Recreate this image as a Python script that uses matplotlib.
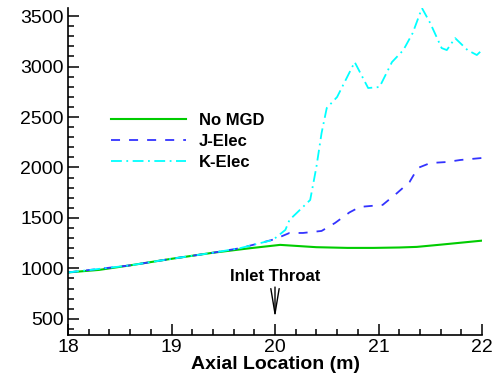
import matplotlib

matplotlib.use("Agg")

import matplotlib.pyplot as plt  # noqa: E402
from matplotlib.ticker import MultipleLocator  # noqa: E402

plt.rcParams["font.family"] = ["Liberation Sans", "DejaVu Sans"]

# --- data ------------------------------------------------------------------
x_nomgd = [18.0, 18.3, 18.6, 19.0, 19.4, 19.76, 20.05, 20.4, 20.7, 20.95,
           21.2, 21.37, 21.6, 21.8, 22.0]
y_nomgd = [960, 985, 1030, 1095, 1155, 1200, 1233, 1210, 1203, 1203,
           1207, 1213, 1235, 1255, 1275]

x_jelec = [18.0, 18.6, 19.0, 19.4, 19.66, 19.86, 20.0, 20.14, 20.27, 20.45,
           20.58, 20.72, 20.82, 21.04, 21.18, 21.3, 21.38, 21.5, 21.66,
           21.79, 22.0]
y_jelec = [960, 1030, 1095, 1155, 1200, 1252, 1290, 1351, 1351, 1371,
           1450, 1555, 1609, 1629, 1747, 1856, 1995, 2044, 2054, 2074, 2094]

x_kelec = [18.0, 18.6, 19.0, 19.4, 19.66, 19.98, 20.1, 20.14, 20.34, 20.4,
           20.45, 20.5, 20.6, 20.77, 20.9, 21.01, 21.13, 21.24, 21.33, 21.42,
           21.5, 21.61, 21.66, 21.74, 21.86, 21.95, 22.0]
y_kelec = [960, 1030, 1095, 1155, 1200, 1282, 1381, 1480, 1678, 2005,
           2341, 2589, 2698, 3044, 2787, 2797, 3044, 3163, 3331, 3579,
           3430, 3183, 3163, 3282, 3163, 3114, 3163]

labels = ["No MGD", "J-Elec", "K-Elec"]

fig = plt.figure(figsize=(4.98, 3.84), dpi=100)
ax = fig.add_axes([68 / 498, 1 - 335 / 384, (482 - 68) / 498, (335 - 8) / 384])

ax.plot(x_nomgd, y_nomgd, color="#00CC00", lw=1.5, label=labels[0])
ax.plot(x_jelec, y_jelec, color="#3333FF", lw=1.3, ls=(0, (5, 5)),
        label=labels[1])
ax.plot(x_kelec, y_kelec, color="#00FFFF", lw=1.3, ls=(0, (6, 2.5, 1, 2.5)),
        label=labels[2])

ax.set_xlim(18, 22)
ax.set_ylim(340, 3580)
ax.xaxis.set_major_locator(MultipleLocator(1))
ax.xaxis.set_minor_locator(MultipleLocator(0.2))
ax.yaxis.set_minor_locator(MultipleLocator(100))
ax.set_yticks([500, 1000, 1500, 2000, 2500, 3000, 3500])

for side in ("top", "right"):
    ax.spines[side].set_visible(False)
for side in ("left", "bottom"):
    ax.spines[side].set_linewidth(1.2)

ax.tick_params(which="both", direction="in", labelsize=14, width=1.1,
               top=False, right=False)
ax.tick_params(which="major", length=8, pad=3)
ax.tick_params(which="minor", length=4)

ax.set_xlabel("Axial Location (m)", fontsize=14, fontweight="bold", labelpad=0)

ax.legend(loc="center left", bbox_to_anchor=(0.104, 0.593), frameon=False,
          prop={"weight": "bold", "size": 12}, handlelength=4.5,
          handletextpad=0.75, labelspacing=0.36, borderpad=0,
          borderaxespad=0)

ax.text(20.0, 915, "Inlet Throat", ha="center", va="center", fontsize=12,
        fontweight="bold")
ax.annotate("", xy=(20.0, 510), xytext=(20.0, 815),
            arrowprops=dict(arrowstyle="->,head_length=1.8,head_width=0.3",
                            color="black", lw=1.0, shrinkA=0, shrinkB=0))

fig.savefig("out.png", dpi=100)
